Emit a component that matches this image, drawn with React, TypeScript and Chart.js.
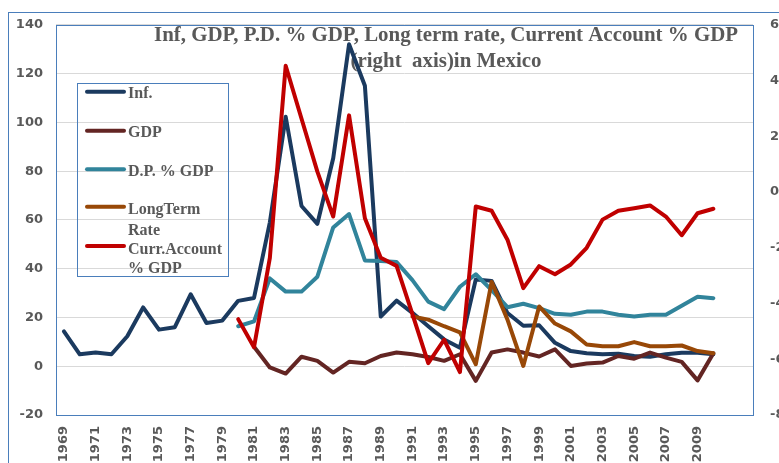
import React, { useEffect, useRef } from "react";
import { Chart, registerables } from "chart.js";

Chart.register(...registerables);

// ---------- data ----------
const years = [
  "1969", "1970", "1971", "1972", "1973", "1974", "1975", "1976", "1977", "1978",
  "1979", "1980", "1981", "1982", "1983", "1984", "1985", "1986", "1987", "1988",
  "1989", "1990", "1991", "1992", "1993", "1994", "1995", "1996", "1997", "1998",
  "1999", "2000", "2001", "2002", "2003", "2004", "2005", "2006", "2007", "2008",
  "2009", "2010", "", "",
];

// Inflation, from 1969
const inflationStart = "1969";
const inflation = [
  14.3, 4.9, 5.6, 4.9, 12.3, 24.1, 15.0, 16.0, 29.5, 17.7,
  18.7, 26.8, 28.0, 59.0, 102.3, 65.7, 58.4, 85.3, 132.0, 115.0,
  20.4, 26.9, 21.9, 16.4, 11.0, 7.6, 35.6, 35.0, 21.8, 16.6,
  16.8, 9.6, 6.2, 5.3, 4.9, 5.1, 4.2, 3.9, 4.9, 5.5,
  5.5, 4.9,
];

// GDP growth, from 1981
const gdpStart = "1981";
const gdpGrowth = [
  8.0, -0.5, -3.0, 3.9, 2.2, -2.6, 1.8, 1.2, 4.2, 5.6,
  4.9, 3.8, 2.2, 4.9, -6.0, 5.6, 6.9, 5.6, 4.0, 6.9,
  0.1, 1.1, 1.5, 4.2, 3.1, 5.6, 3.5, 1.8, -5.8, 5.3,
];

// Public debt % GDP, from 1980
const debtStart = "1980";
const debtPctGdp = [
  16.4, 18.4, 36.0, 30.6, 30.6, 36.7, 56.9, 62.4, 43.4, 43.1,
  42.7, 35.3, 26.5, 23.4, 32.6, 37.7, 31.2, 24.2, 25.6, 23.8,
  21.5, 21.1, 22.4, 22.4, 21.1, 20.4, 21.1, 21.1, 24.8, 28.5,
  27.9,
];

// Long term rate, from 1991
const longTermStart = "1991";
const longTermRate = [
  20.4, 19.1, 16.4, 13.9, 0.8, 34.6, 19.1, 0.1, 24.5, 17.5,
  14.3, 8.9, 8.2, 8.2, 9.9, 8.2, 8.2, 8.5, 6.2, 5.3,
];

// Current account % GDP (right axis), from 1980
const currentAccountStart = "1980";
const currentAccountPctGdp = [
  -4.56, -5.57, -2.36, 4.53, 2.63, 0.73, -0.88, 2.75, -0.94, -2.36,
  -2.65, -4.38, -6.14, -5.3, -6.46, -0.52, -0.67, -1.71, -3.45, -2.66,
  -2.95, -2.6, -2.0, -0.99, -0.67, -0.58, -0.48, -0.88, -1.55, -0.76,
  -0.6,
];

const leftTicks = { min: -20, max: 140, step: 20 };
const rightTicks = { min: -8, max: 6, step: 2 };

const titleLines = [
  "Inf, GDP, P.D. % GDP, Long term rate, Current Account % GDP",
  "(right  axis)in Mexico",
];

const seriesNames = ["Inf.", "GDP", "D.P. % GDP", "LongTerm|Rate", "Curr.Account|% GDP"];
const seriesColors = ["#1B3A5F", "#632523", "#31849B", "#984807", "#C00000"];

function alignFrom(start: string, values: number[]) {
  const i0 = years.indexOf(start);
  return years.map((_, i) => (i >= i0 && i - i0 < values.length ? values[i - i0] : null));
}

// ---------- layout ----------
const CW = 800;
const CH = 480;
const PLOT_LEFT = 56;
const PLOT_TOP = 22;
const PLOT_RIGHT = 753;
const PLOT_BOTTOM = 415;
const BLUE = "#4A7EBB";
const GRAY = "#595959";

const decor = {
  id: "decor",
  beforeDatasetsDraw(chart: any) {
    const ctx = chart.ctx as CanvasRenderingContext2D;
    ctx.save();
    ctx.fillStyle = GRAY;
    ctx.font = 'bold 21px "Liberation Serif"';
    ctx.textAlign = "center";
    ctx.textBaseline = "alphabetic";
    const w1 = ctx.measureText(titleLines[0]).width;
    const sx = 584 / w1;
    ctx.translate(446, 0);
    ctx.scale(sx, 1);
    ctx.fillText(titleLines[0], 0, 41);
    ctx.fillText(titleLines[1], 0, 66.5);
    ctx.restore();
  },
  afterDraw(chart: any) {
    const ctx = chart.ctx as CanvasRenderingContext2D;
    const a = chart.chartArea;
    ctx.save();
    ctx.strokeStyle = BLUE;
    ctx.lineWidth = 1;
    // plot area border
    ctx.strokeRect(Math.round(a.left) + 0.5, Math.round(a.top) + 0.5, Math.round(a.right - a.left), Math.round(a.bottom - a.top));
    // outer chart border
    ctx.strokeRect(8.5, 12.5, CW, CH);
    // legend box
    ctx.strokeRect(77.5, 83.5, 151, 193);
    const lineYs = [91.7, 130.7, 169.3, 206.7, 246];
    const baselines = [[98], [137], [176], [214, 235], [254, 273]];
    ctx.lineCap = "round";
    ctx.lineWidth = 4;
    ctx.font = 'bold 16px "Liberation Serif"';
    ctx.textAlign = "left";
    ctx.textBaseline = "alphabetic";
    seriesNames.forEach((name, i) => {
      ctx.strokeStyle = seriesColors[i];
      ctx.beginPath();
      ctx.moveTo(87, lineYs[i]);
      ctx.lineTo(124, lineYs[i]);
      ctx.stroke();
      ctx.fillStyle = GRAY;
      name.split("|").forEach((part, j) => ctx.fillText(part, 128, baselines[i][j]));
    });
    ctx.restore();
  },
};

const tickFont = { family: '"DejaVu Sans"', weight: "bold" as const, size: 13 };

export default function App() {
  const ref = useRef<HTMLCanvasElement | null>(null);

  useEffect(() => {
    if (!ref.current) return;
    const mk = (idx: number, data: (number | null)[], axis = "y", order = 5) => ({
      label: seriesNames[idx].replace("|", " "),
      data,
      borderColor: seriesColors[idx],
      backgroundColor: seriesColors[idx],
      borderWidth: 4,
      pointRadius: 0,
      tension: 0,
      fill: false,
      spanGaps: false,
      yAxisID: axis,
      order,
      borderCapStyle: "round" as const,
      borderJoinStyle: "round" as const,
    });
    const chart = new Chart(ref.current, {
      type: "line",
      data: {
        labels: years,
        datasets: [
          mk(0, alignFrom(inflationStart, inflation), "y", 5),
          mk(1, alignFrom(gdpStart, gdpGrowth), "y", 4),
          mk(2, alignFrom(debtStart, debtPctGdp), "y", 3),
          mk(3, alignFrom(longTermStart, longTermRate), "y", 2),
          mk(4, alignFrom(currentAccountStart, currentAccountPctGdp), "y1", 1),
        ],
      },
      options: {
        responsive: false,
        animation: false,
        layout: { padding: { top: PLOT_TOP, left: 0, right: 0, bottom: 0 } },
        plugins: {
          legend: { display: false },
          tooltip: { enabled: false },
          title: { display: false },
        },
        scales: {
          x: {
            type: "category",
            offset: true,
            grid: { display: false, drawTicks: false },
            border: { display: false },
            ticks: {
              autoSkip: false,
              maxRotation: 90,
              minRotation: 90,
              padding: 11,
              color: GRAY,
              font: tickFont,
              callback: (_v: any, i: number) => (i % 2 === 0 ? years[i] : ""),
            },
            afterFit: (s: any) => {
              s.height = CH - PLOT_BOTTOM;
            },
          },
          y: {
            position: "left",
            min: leftTicks.min,
            max: leftTicks.max,
            grid: { color: "#D9D9D9", lineWidth: 1, drawTicks: false },
            border: { display: false },
            ticks: { stepSize: leftTicks.step, padding: 13, color: GRAY, font: tickFont },
            afterFit: (s: any) => {
              s.width = PLOT_LEFT;
            },
          },
          y1: {
            position: "right",
            min: rightTicks.min,
            max: rightTicks.max,
            grid: { display: false, drawTicks: false },
            border: { display: false },
            ticks: { stepSize: rightTicks.step, padding: 17, color: GRAY, font: tickFont },
            afterFit: (s: any) => {
              s.width = CW - PLOT_RIGHT;
            },
          },
        },
      },
      plugins: [decor],
    });
    return () => chart.destroy();
  }, []);

  return (
    <div
      style={{
        position: "fixed",
        left: 0,
        top: 0,
        width: 779,
        height: 463,
        overflow: "hidden",
        background: "#fff",
      }}
    >
      <canvas ref={ref} width={CW} height={CH} style={{ display: "block", width: CW, height: CH }} />
    </div>
  );
}
